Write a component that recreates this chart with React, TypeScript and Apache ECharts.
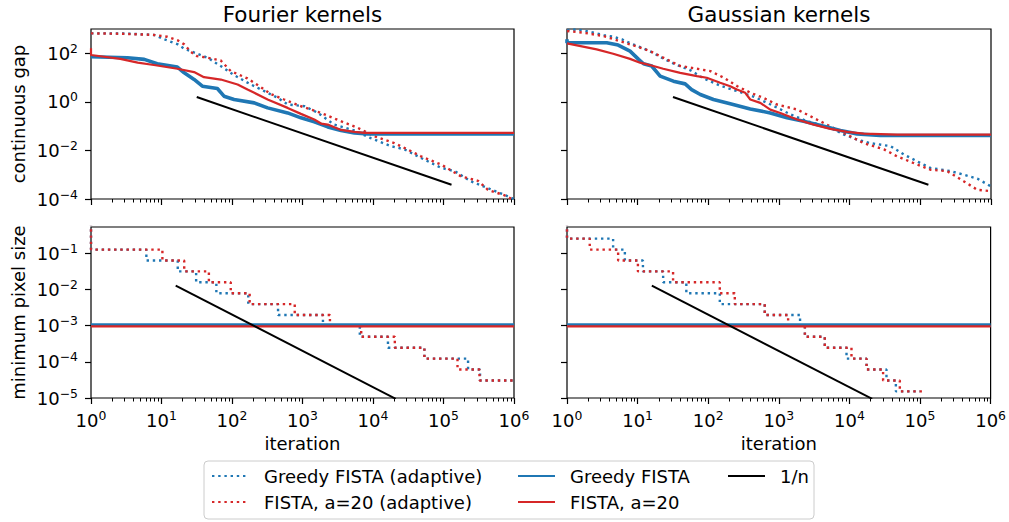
import { useEffect, useRef } from 'react';
import * as echarts from 'echarts';

const FONT = 'DejaVu Sans';
const BLUE = '#1f77b4';
const RED = '#d62728';

const NAMES = ['Greedy FISTA (adaptive)', 'FISTA, a=20 (adaptive)', 'Greedy FISTA', 'FISTA, a=20', '1/n'];
const TITLES = ['Fourier kernels', 'Gaussian kernels'];
const Y_NAMES = ['continuous gap', 'minimum pixel size'];
const X_NAME = 'iteration';

// axes
const X_RANGE = [1, 1e6];
const X_MAJOR = [1, 10, 100, 1000, 10000, 100000, 1000000];
const X_MINOR: number[] = [];
for (let d = 0; d < 6; d++) for (let k = 2; k <= 9; k++) X_MINOR.push(k * Math.pow(10, d));
const Y_GAP_RANGE = [1e-4, 1000];
const Y_GAP_TICKS = [1e-4, 1e-2, 1, 100];
const Y_PIX_RANGE = [1e-5, 0.525];
const Y_PIX_TICKS = [1e-5, 1e-4, 1e-3, 1e-2, 1e-1];

// ---- Fourier, continuous gap ----
const fourierGapGreedyAdaptive = [
  [1, 660], [3, 655], [7.8, 570], [11, 375], [17, 233], [21, 155], [32, 96], [45, 66], [69, 30],
  [107, 12.6], [185, 5.2], [288, 2.75], [447, 1.46], [617, 0.78], [1070, 0.66], [1660, 0.35],
  [2800, 0.116], [5450, 0.066], [9300, 0.032], [18000, 0.015], [28000, 0.011], [48000, 0.0049],
  [93000, 0.0019], [144000, 0.0014], [246000, 5.3e-4], [426000, 2.8e-4], [870000, 1.2e-4], [1e6, 1e-4],
];
const fourierGapFistaAdaptive = [
  [1, 660], [2.6, 640], [7.8, 570], [12, 480], [17, 340], [21, 233], [26, 115], [32, 76], [45, 66],
  [69, 51], [96, 18.5], [166, 9.2], [257, 4], [355, 2.1], [550, 1.25], [950, 0.66], [1830, 0.35],
  [3500, 0.16], [6100, 0.085], [10500, 0.038], [20000, 0.02], [31000, 0.011], [48000, 0.0057],
  [93000, 0.0026], [178000, 8.5e-4], [309000, 5.6e-4], [426000, 2.4e-4], [740000, 1.4e-4], [1e6, 9e-5],
];
const fourierGapGreedy = [
  [1, 72], [3.3, 65.5], [5.7, 56], [8.7, 37], [16.8, 27], [21, 15.7], [29, 8.4], [38, 4.4], [62, 3.55],
  [77, 1.71], [107, 1.25], [207, 0.91], [320, 0.565], [615, 0.35], [950, 0.22], [1470, 0.15],
  [2280, 0.093], [3520, 0.066], [5450, 0.0526], [8400, 0.048], [1e6, 0.048],
];
const fourierGapFista = [
  [1, 160], [1, 85], [2.6, 59], [4.6, 41], [7.8, 33], [16.8, 23], [29, 16.8], [40, 10.4], [69.5, 8.3],
  [120, 5.2], [166, 3.2], [207, 2.35], [320, 1.25], [615, 0.565], [950, 0.32], [1470, 0.187],
  [1830, 0.128], [2280, 0.116], [3520, 0.07], [5450, 0.058], [7550, 0.0526], [1e6, 0.0526],
];
const gapRefLine = [[31.6, 1.58], [130000, 3.85e-4]];

// ---- Gaussian, continuous gap ----
const gaussianGapGreedyAdaptive = [
  [1, 900], [1.4, 960], [2.3, 720], [3.3, 560], [4.5, 480], [6, 375], [7.8, 260], [12, 160], [16, 110],
  [21, 70], [32, 38], [56, 20], [87, 9], [148, 4.6], [257, 2.75], [445, 1.6], [760, 0.78],
  [1470, 0.3], [2500, 0.16], [5450, 0.085], [8300, 0.045], [12700, 0.028], [19500, 0.02],
  [38000, 0.015], [59000, 0.0067], [91000, 0.0035], [139000, 0.0019], [270000, 0.0014],
  [414000, 0.001], [640000, 6.9e-4], [1e6, 3.3e-4],
];
const gaussianGapFistaAdaptive = [
  [1, 830], [1.7, 710], [3.3, 510], [5.6, 316], [9.7, 190], [15, 123], [23, 66], [40, 30], [69, 23],
  [107, 18.5], [166, 9.8], [257, 4.4], [398, 2.35], [600, 1.46], [930, 0.78], [1820, 0.48],
  [2750, 0.26], [4750, 0.115], [9100, 0.045], [15800, 0.02], [30600, 0.011], [47000, 0.0057],
  [91000, 0.0026], [139000, 0.0016], [240000, 0.0014], [414000, 5.3e-4], [640000, 2.4e-4], [1e6, 2.1e-4],
];
const gaussianGapGreedy = [
  [1, 380], [1, 272], [3.65, 272], [5.3, 218], [7.8, 123], [10.3, 56], [12.1, 37], [15.8, 30],
  [20.8, 11.5], [32, 7.1], [47, 5.5], [58, 3.2], [77, 2.0], [118, 1.25], [204, 0.83], [392, 0.51],
  [753, 0.35], [1300, 0.22], [2230, 0.16], [4300, 0.099], [7400, 0.066], [12700, 0.048],
  [27000, 0.041], [1e6, 0.041],
];
const gaussianGapFista = [
  [1, 255], [2.63, 145], [4.5, 96], [7.8, 59], [10.8, 41], [16.7, 30], [23, 23], [40, 15.7],
  [69, 11.5], [95, 9.8], [147, 6.1], [204, 4.4], [254, 3.2], [333, 2.35], [392, 1.25], [543, 0.91],
  [753, 0.48], [1043, 0.35], [1800, 0.187], [3100, 0.116], [5330, 0.077], [9190, 0.058],
  [15800, 0.049], [47000, 0.045], [1e6, 0.045],
];

// ---- Fourier, minimum pixel size (steps) ----
const fourierPixGreedyAdaptive = [
  [1, 1], [1, 0.125], [6.1, 0.0625], [17, 0.03125], [31, 0.015625], [60, 0.0078125],
  [170, 0.00390625], [450, 0.001953125], [1950, 0.0009765625], [6500, 0.00048828125],
  [16300, 0.000244140625], [53600, 0.0001220703125], [223000, 0.00006103515625],
  [330000, 0.000030517578125], [1e6, 0.000030517578125],
];
const fourierPixFistaAdaptive = [
  [1, 1], [1, 0.125], [10.3, 0.0625], [21, 0.03125], [47, 0.015625], [96, 0.0078125],
  [178, 0.00390625], [776, 0.001953125], [2450, 0.0009765625], [6800, 0.00048828125],
  [20400, 0.000244140625], [53600, 0.0001220703125], [158000, 0.00006103515625],
  [324000, 0.000030517578125], [1e6, 0.000030517578125],
];
const fourierPixGreedy = [[1, 1.03e-3], [1e6, 1.03e-3]];
const fourierPixFista = [[1, 0.95e-3], [1e6, 0.95e-3]];
const pixRefLine = [[15.9, 0.0126], [21000, 9.5e-6]];

// ---- Gaussian, minimum pixel size (steps) ----
const gaussianPixGreedyAdaptive = [
  [1, 1], [1, 0.25], [4.5, 0.125], [6.6, 0.0625], [11.9, 0.03125], [23, 0.015625], [49, 0.0078125],
  [146, 0.00390625], [632, 0.001953125], [2000, 0.0009765625], [2340, 0.00048828125],
  [4480, 0.000244140625], [9100, 0.0001220703125], [17500, 0.00006103515625],
  [33500, 0.000030517578125], [45500, 0.0000152587890625], [100000, 0.0000152587890625],
];
const gaussianPixFistaAdaptive = [
  [1, 1], [1, 0.25], [2.1, 0.125], [5.3, 0.0625], [10.1, 0.03125], [31.8, 0.015625],
  [146, 0.0078125], [238, 0.00390625], [632, 0.001953125], [1355, 0.0009765625],
  [2340, 0.00048828125], [4480, 0.000244140625], [10700, 0.0001220703125],
  [17500, 0.00006103515625], [30000, 0.000030517578125], [51800, 0.0000152587890625],
  [117000, 0.0000152587890625],
];
const gaussianPixGreedy = [[1, 1.03e-3], [1e6, 1.03e-3]];
const gaussianPixFista = [[1, 0.95e-3], [1e6, 0.95e-3]];

const PANELS = [
  { data: [fourierGapGreedyAdaptive, fourierGapFistaAdaptive, fourierGapGreedy, fourierGapFista, gapRefLine], step: false },
  { data: [gaussianGapGreedyAdaptive, gaussianGapFistaAdaptive, gaussianGapGreedy, gaussianGapFista, gapRefLine], step: false },
  { data: [fourierPixGreedyAdaptive, fourierPixFistaAdaptive, fourierPixGreedy, fourierPixFista, pixRefLine], step: true },
  { data: [gaussianPixGreedyAdaptive, gaussianPixFistaAdaptive, gaussianPixGreedy, gaussianPixFista, pixRefLine], step: true },
];

const GRIDS = [
  { left: 91, top: 29, width: 423, height: 170 },
  { left: 567, top: 29, width: 424, height: 170 },
  { left: 91, top: 227, width: 423, height: 171 },
  { left: 567, top: 227, width: 424, height: 171 },
];

const STYLES = [
  { color: BLUE, width: 2.4, type: [2.4, 3.8] },
  { color: RED, width: 2.4, type: [2.4, 3.8] },
  { color: BLUE, width: 3.6, type: 'solid' },
  { color: RED, width: 2.2, type: 'solid' },
  { color: '#000', width: 2, type: 'solid' },
];

const expLabel = (v: number) => {
  const e = Math.round(Math.log10(v));
  return `{b|10}{s|${e < 0 ? '\u2212' + -e : e}}`;
};
const RICH = {
  b: { fontSize: 18, fontFamily: FONT, color: '#000', lineHeight: 22 },
  s: { fontSize: 12.4, fontFamily: FONT, color: '#000', lineHeight: 10, verticalAlign: 'top' },
};
const tickLine = { color: '#000', width: 1.2 };

function buildOption() {
  const xAxis: any[] = [];
  const yAxis: any[] = [];
  const series: any[] = [];
  GRIDS.forEach((_, g) => {
    const bottomRow = g >= 2;
    const leftCol = g % 2 === 0;
    xAxis.push({
      type: 'log', gridIndex: g, min: X_RANGE[0], max: X_RANGE[1], logBase: 10, position: 'bottom',
      axisLine: { show: false },
      axisTick: { show: true, customValues: X_MAJOR, length: 6, lineStyle: tickLine },
      axisLabel: bottomRow
        ? { show: true, customValues: X_MAJOR, formatter: expLabel, rich: RICH, margin: 11 }
        : { show: false },
      splitLine: { show: false },
      name: bottomRow ? X_NAME : '',
      nameLocation: 'middle', nameGap: 36,
      nameTextStyle: { fontSize: 18, fontFamily: FONT, color: '#000' },
    });
    xAxis.push({
      type: 'log', gridIndex: g, min: X_RANGE[0], max: X_RANGE[1], logBase: 10, position: 'bottom',
      axisLine: { show: false },
      axisTick: { show: true, customValues: X_MINOR, length: 3.5, lineStyle: { color: '#000', width: 1 } },
      axisLabel: { show: false },
      splitLine: { show: false },
    });
    const yr = bottomRow ? Y_PIX_RANGE : Y_GAP_RANGE;
    const yt = bottomRow ? Y_PIX_TICKS : Y_GAP_TICKS;
    yAxis.push({
      type: 'log', gridIndex: g, min: yr[0], max: yr[1], logBase: 10,
      axisLine: { show: false },
      axisTick: { show: true, customValues: yt, length: 6, lineStyle: tickLine },
      axisLabel: leftCol
        ? { show: true, customValues: yt, formatter: expLabel, rich: RICH, margin: 13 }
        : { show: false },
      splitLine: { show: false },
      name: leftCol ? Y_NAMES[bottomRow ? 1 : 0] : '',
      nameLocation: 'middle', nameGap: 64, nameRotate: 90,
      nameTextStyle: { fontSize: 18, fontFamily: FONT, color: '#000' },
    });
    const panel = PANELS[g];
    panel.data.forEach((d, i) => {
      const st = STYLES[i];
      series.push({
        type: 'line', name: NAMES[i], data: d, xAxisIndex: g * 2, yAxisIndex: g,
        symbol: 'none', showSymbol: false, silent: true, clip: true,
        step: panel.step && i < 2 ? 'end' : false,
        color: st.color,
        lineStyle: { color: st.color, width: st.width, type: st.type, cap: 'butt' },
        z: 2 + i,
      });
    });
  });

  const legendCommon = {
    orient: 'vertical', top: 466, itemWidth: 37, itemHeight: 14, itemGap: 6, padding: 0,
    selectedMode: false,
    itemStyle: { color: 'rgba(0,0,0,0)', borderColor: 'rgba(0,0,0,0)', borderWidth: 0, opacity: 0 },
    textStyle: { fontSize: 18, fontFamily: FONT, color: '#000', lineHeight: 20, padding: [0, 0, 0, 10] },
  };

  return {
    animation: false,
    backgroundColor: '#fff',
    grid: GRIDS.map((r) => ({ ...r, show: true, borderColor: '#000', borderWidth: 1.2, backgroundColor: 'transparent' })),
    xAxis, yAxis, series,
    legend: [
      { ...legendCommon, left: 211, data: [NAMES[0], NAMES[1]] },
      { ...legendCommon, left: 517, data: [NAMES[2], NAMES[3]] },
      { ...legendCommon, left: 727, data: [NAMES[4]] },
    ],
    graphic: [
      { type: 'rect', z: 0, shape: { x: 204, y: 461, width: 610, height: 58, r: 4 },
        style: { fill: '#fff', stroke: '#cccccc', lineWidth: 1 } },
      { type: 'text', x: 302.5, y: 14.3, style: { text: TITLES[0], fontSize: 21.5, fontFamily: FONT, fill: '#000', align: 'center', verticalAlign: 'middle' } },
      { type: 'text', x: 779, y: 14.3, style: { text: TITLES[1], fontSize: 21.5, fontFamily: FONT, fill: '#000', align: 'center', verticalAlign: 'middle' } },
    ],
  };
}

export default function App() {
  const ref = useRef<HTMLDivElement>(null);
  useEffect(() => {
    const chart = echarts.init(ref.current!, null, { renderer: 'svg' });
    chart.setOption(buildOption() as any);
    return () => chart.dispose();
  }, []);
  return (
    <div
      ref={ref}
      style={{ position: 'absolute', left: 0, top: 0, width: 1009, height: 522, background: '#fff' }}
    />
  );
}
